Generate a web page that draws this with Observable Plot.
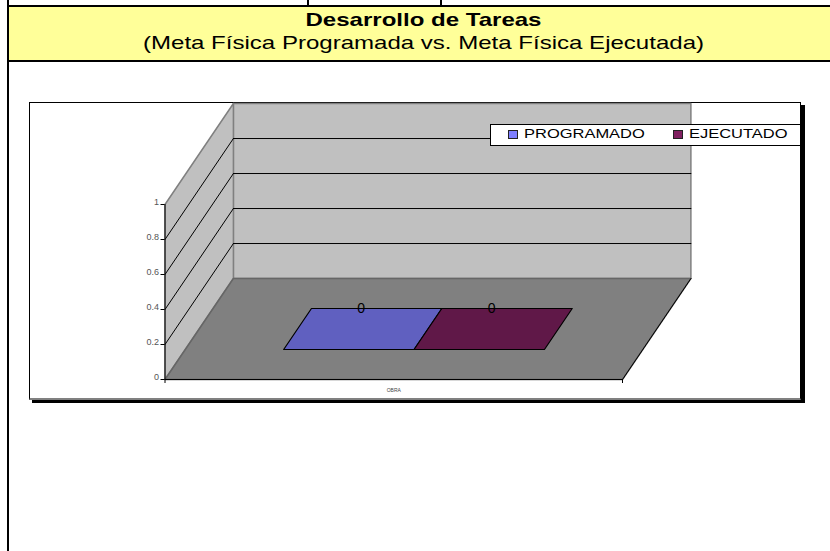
<!DOCTYPE html>
<html>
<head>
<meta charset="utf-8">
<script src="https://cdn.jsdelivr.net/npm/d3@7"></script>
<script src="https://cdn.jsdelivr.net/npm/@observablehq/plot@0.6"></script>
<style>
html,body{margin:0;padding:0;background:#fff;width:830px;height:551px;overflow:hidden;font-family:"Liberation Sans",Arial,sans-serif;}
.abs{position:absolute;box-sizing:border-box;}
.k{background:#000;}
#plot{position:absolute;left:0;top:0;}
#plot svg{background:transparent;display:block;}
.title{left:9px;width:829px;text-align:center;color:#000;white-space:nowrap;font-size:19px;line-height:22px;transform:scaleX(1.265);transform-origin:center;}
.lg{font-size:13.5px;line-height:16px;color:#000;white-space:nowrap;transform:scaleX(1.22);transform-origin:left center;}
.sw{width:10px;height:9px;border:1px solid #222;}
</style>
</head>
<body>
<!-- sheet cell frame -->
<div class="abs" style="left:9px;top:7px;width:821px;height:53px;background:#ffff99"></div>
<div class="abs k" style="left:7px;top:0;width:2px;height:551px"></div>
<div class="abs k" style="left:7px;top:5px;width:823px;height:2px"></div>
<div class="abs k" style="left:7px;top:60px;width:823px;height:2px"></div>
<div class="abs k" style="left:307px;top:0;width:2px;height:5px"></div>
<div class="abs k" style="left:440px;top:0;width:2px;height:5px"></div>
<div class="abs title" style="top:9px;font-weight:bold" id="t1"></div>
<div class="abs title" style="top:32px" id="t2"></div>
<!-- chart frame -->
<div class="abs k" style="left:32px;top:105px;width:773px;height:298px"></div>
<div class="abs" style="left:29px;top:102px;width:772px;height:298px;background:#fff;border:1px solid #000;border-bottom:2px solid #808080;border-right:1px solid #000"></div>
<div id="plot"></div>
<!-- legend -->
<div class="abs" id="legend" style="left:490px;top:124px;width:311px;height:22px;background:#fff;border:1px solid #000;"></div>
<div class="abs sw" id="sw0" style="left:508px;top:130px"></div>
<div class="abs lg" id="lg0" style="left:524px;top:126px"></div>
<div class="abs sw" id="sw1" style="left:673px;top:130px"></div>
<div class="abs lg" id="lg1" style="left:689px;top:126px"></div>
<script>
const titleText = "Desarrollo de Tareas";
const subtitleText = "(Meta Física Programada vs. Meta Física Ejecutada)";
const categories = ["OBRA"];
const seriesNames = ["PROGRAMADO", "EJECUTADO"];
const seriesValues = [0, 0];
const seriesFill = ["#6060c0", "#601848"];
const legendFill = ["#7f7fff", "#802060"];
const valueTicks = [0, 0.2, 0.4, 0.6, 0.8, 1];

// Oblique 3D projection in chart units: depth d (0 front .. 1 back) shifts
// a point right by depthX category units and up by depthY value units.
const depthX = 0.1495, depthY = 0.577;
const P = (u, v, d) => ({X: u + depthX * d, Y: v + depthY * d});
const poly = (id, pts) => pts.map(([u, v, d]) => ({id, ...P(u, v, d)}));

const barFront = 0.297, barBack = 0.703;
const barEdges = [0.215, 0.5, 0.785];

const backWall = poly("back", [[0,0,1],[1,0,1],[1,1,1],[0,1,1]]);
const sideWall = poly("side", [[0,0,0],[0,0,1],[0,1,1],[0,1,0]]);
const floor = poly("floor", [[0,0,0],[1,0,0],[1,0,1],[0,0,1]]);
const bars = seriesNames.flatMap((s, i) => poly(s, [
  [barEdges[i], seriesValues[i], barFront],
  [barEdges[i+1], seriesValues[i], barFront],
  [barEdges[i+1], seriesValues[i], barBack],
  [barEdges[i], seriesValues[i], barBack]
]));
const inner = valueTicks.filter(v => v > 0 && v < 1);
const backGrid = inner.flatMap(v => poly("b" + v, [[0,v,1],[1,v,1]]));
const sideGrid = inner.flatMap(v => poly("s" + v, [[0,v,0],[0,v,1]]));
const rightEdge = poly("edge", [[1,0,0],[1,0,1]]);
const labels = seriesNames.map((s, i) => ({
  value: seriesValues[i],
  ...P((barEdges[i] + barEdges[i+1]) / 2, seriesValues[i], 0.5)
}));
const closed = {x: "X", y: "Y", z: "id", curve: "linear-closed"};
const open = {x: "X", y: "Y", z: "id"};

const chart = Plot.plot({
  width: 830, height: 551,
  marginLeft: 164.5, marginRight: 208, marginTop: 204, marginBottom: 172,
  style: {background: "transparent", fontFamily: '"Liberation Sans", Arial, sans-serif'},
  x: {type: "linear", domain: [0, 1]},
  y: {type: "linear", domain: [0, 1]},
  marks: [
    Plot.line(backWall, {...closed, fill: "#c0c0c0", stroke: "#808080", strokeWidth: 1.5}),
    Plot.line(sideWall, {...closed, fill: "#c0c0c0", stroke: "#808080", strokeWidth: 1.5}),
    Plot.line(backGrid, {...open, stroke: "#000", strokeWidth: 1}),
    Plot.line(sideGrid, {...open, stroke: "#000", strokeWidth: 1}),
    Plot.line(floor, {...closed, fill: "#808080", stroke: "#666", strokeWidth: 1.5}),
    Plot.line(rightEdge, {...open, stroke: "#000", strokeWidth: 1}),
    Plot.ruleY([0], {x1: 0, x2: 1, stroke: "#000", strokeWidth: 1}),
    Plot.ruleX([0], {y1: 0, y2: 1, stroke: "#000", strokeWidth: 1}),
    Plot.line(bars, {...closed, fill: d => seriesFill[seriesNames.indexOf(d.id)], stroke: "#000", strokeWidth: 1.2}),
    Plot.text(labels, {x: "X", y: "Y", text: d => String(d.value), dy: -20.5, dx: -1.5, fontSize: 14, fill: "#000"}),
    Plot.axisY({ticks: valueTicks, tickFormat: null, text: null, tickSize: 4, label: null, stroke: "#000"}),
    Plot.axisY({ticks: valueTicks, tickFormat: d => String(d), tickSize: 0, tickPadding: 6, dy: -2.5, fontSize: 9, color: "#555", label: null}),
    Plot.axisX({ticks: [0, 1], tickFormat: () => "", tickSize: 4, label: null, stroke: "#000"}),
    Plot.text(categories, {x: () => 0.5, y: () => 0, text: d => d, dy: 11, fontSize: 5, fill: "#444"})
  ]
});
document.getElementById("plot").append(chart);
document.getElementById("t1").textContent = titleText;
document.getElementById("t2").textContent = subtitleText;
seriesNames.forEach((s, i) => {
  document.getElementById("lg" + i).textContent = s;
  document.getElementById("sw" + i).style.background = legendFill[i];
});
</script>
</body>
</html>
